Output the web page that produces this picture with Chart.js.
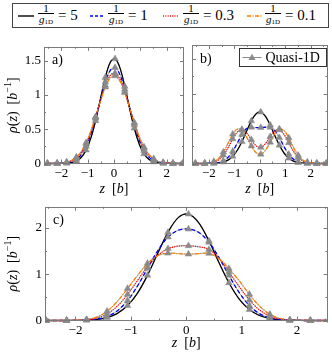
<!DOCTYPE html>
<html>
<head>
<meta charset="utf-8">
<script src="https://cdn.jsdelivr.net/npm/chart.js@4.4.0/dist/chart.umd.min.js"></script>
<style>
    body { margin: 0; width: 332px; height: 357px; background: #fff; position: relative; overflow: hidden; font-family: "Liberation Serif", serif; }
    canvas { position: absolute; }
    #legend { position: absolute; left: 12px; top: 3px; width: 317px; height: 25px; border: 1px solid #444; box-sizing: border-box; }
    .part { position: absolute; top: 0; height: 23px; display: flex; align-items: center; font-size: 15px; white-space: nowrap; color: #000; }
    .frac { display: inline-flex; flex-direction: column; align-items: center; font-size: 11px; }
    .frac .num { border-bottom: 0.8px solid #000; width: 100%; text-align: center; line-height: 10px; }
    .frac .den { line-height: 11px; font-style: italic; padding: 0 1px; }
    .frac sub { font-size: 7px; font-style: normal; vertical-align: -1px; }
</style>
</head>
<body>
<div id="legend"></div>
<canvas id="panelA" width="190" height="164" style="left:0;top:36px"></canvas>
<canvas id="panelB" width="146" height="164" style="left:186px;top:36px"></canvas>
<canvas id="panelC" width="332" height="161" style="left:0;top:196px"></canvas>
<script>
// positions en z [b] (marqueurs quasi-1D sur un point sur deux)
const zGrid = [-2.53, -2.35, -2.16, -1.98, -1.80, -1.61, -1.43, -1.25, -1.06, -0.88, -0.70, -0.51, -0.33, -0.14,
    0.04, 0.22, 0.41, 0.59, 0.77, 0.96, 1.14, 1.32, 1.51, 1.69, 1.87, 2.06, 2.24, 2.42, 2.61];

const gLabels = ['5', '1', '0.3', '0.1'];
const xTicks = [-2, -1, 0, 1, 2];
const yTicksTop = [0, 0.5, 1, 1.5];
const yTicksBottom = [0, 1, 2];

// panneau a)
const aBlack = [0, 0, 0, 0.001, 0.004, 0.013, 0.036, 0.087, 0.195, 0.369, 0.622, 0.949, 1.253, 1.476, 1.525, 1.400, 1.123, 0.807, 0.514, 0.281, 0.140, 0.062, 0.023, 0.008, 0.002, 0.001, 0, 0, 0];
const aBlue = [0, 0, 0.001, 0.003, 0.010, 0.026, 0.061, 0.127, 0.250, 0.426, 0.659, 0.938, 1.184, 1.358, 1.397, 1.299, 1.081, 0.820, 0.562, 0.339, 0.189, 0.096, 0.042, 0.017, 0.006, 0.002, 0.001, 0, 0];
const aRed = [0, 0.001, 0.002, 0.006, 0.016, 0.038, 0.081, 0.156, 0.285, 0.458, 0.675, 0.925, 1.137, 1.285, 1.317, 1.235, 1.049, 0.820, 0.587, 0.374, 0.223, 0.122, 0.058, 0.027, 0.011, 0.004, 0.001, 0, 0];
const aOrange = [0, 0.001, 0.003, 0.008, 0.020, 0.046, 0.093, 0.172, 0.303, 0.473, 0.681, 0.916, 1.113, 1.248, 1.277, 1.203, 1.031, 0.818, 0.597, 0.390, 0.240, 0.136, 0.068, 0.032, 0.014, 0.005, 0.002, 0.001, 0];

// panneau b)
const bBlack = [0, 0, 0, 0.001, 0.003, 0.008, 0.021, 0.048, 0.104, 0.190, 0.313, 0.469, 0.611, 0.715, 0.738, 0.680, 0.551, 0.402, 0.262, 0.147, 0.076, 0.035, 0.014, 0.005, 0.002, 0, 0, 0, 0];
const bBlue = [0, 0, 0, 0.001, 0.004, 0.014, 0.037, 0.086, 0.176, 0.293, 0.416, 0.505, 0.520, 0.515, 0.515, 0.520, 0.520, 0.475, 0.370, 0.238, 0.133, 0.063, 0.024, 0.008, 0.002, 0.001, 0, 0, 0];
const bRed = [0, 0, 0.002, 0.006, 0.019, 0.054, 0.120, 0.222, 0.352, 0.452, 0.487, 0.436, 0.341, 0.253, 0.232, 0.284, 0.385, 0.467, 0.483, 0.413, 0.297, 0.178, 0.086, 0.036, 0.012, 0.003, 0.001, 0, 0];
const bOrange = [0, 0, 0.002, 0.008, 0.027, 0.075, 0.162, 0.286, 0.420, 0.495, 0.479, 0.376, 0.251, 0.154, 0.132, 0.187, 0.305, 0.427, 0.496, 0.471, 0.367, 0.234, 0.118, 0.050, 0.018, 0.005, 0.001, 0, 0];

// panneau c)
const cBlack = [0, 0, 0.001, 0.002, 0.008, 0.025, 0.064, 0.149, 0.322, 0.591, 0.973, 1.458, 1.900, 2.222, 2.293, 2.113, 1.714, 1.249, 0.813, 0.455, 0.235, 0.108, 0.042, 0.015, 0.005, 0.001, 0, 0, 0];
const cBlue = [0, 0, 0, 0.002, 0.009, 0.031, 0.087, 0.206, 0.430, 0.744, 1.123, 1.514, 1.796, 1.947, 1.970, 1.902, 1.686, 1.357, 0.972, 0.594, 0.322, 0.150, 0.056, 0.019, 0.005, 0.001, 0, 0, 0];
const cRed = [0, 0, 0.001, 0.004, 0.015, 0.054, 0.140, 0.302, 0.561, 0.861, 1.157, 1.405, 1.547, 1.604, 1.610, 1.589, 1.530, 1.340, 1.046, 0.724, 0.442, 0.229, 0.094, 0.033, 0.009, 0.002, 0, 0, 0];
const cOrange = [0, 0, 0.001, 0.004, 0.020, 0.076, 0.197, 0.403, 0.690, 0.970, 1.230, 1.400, 1.450, 1.440, 1.430, 1.440, 1.445, 1.330, 1.120, 0.849, 0.564, 0.314, 0.133, 0.046, 0.012, 0.002, 0, 0, 0];

const styles = [
    { color: '#000000', dash: [] },
    { color: '#0000ff', dash: [4, 2.5] },
    { color: '#ff0000', dash: [1, 1.3] },
    { color: '#ff8000', dash: [4, 1.5, 1, 1.5] }
];
const svgDash = ['', '3,2', '1,1.3', '4,1.5,1,1.5'];
const GRAY = '#8a8a8a';
const FRAME = '#7a7a7a';
const SERIF = '"Liberation Serif", serif';

/**
 * Légende en haut (fractions 1/g1D)
 */
function buildLegend() {
    const legend = document.getElementById('legend');
    // positions relatives au cadre de légende
    const lineX = [5, 77, 150, 234];
    const lineW = [16, 14, 15, 15];
    const fracX = [25, 95, 170, 252];
    gLabels.forEach(function(g, i) {
        const sample = document.createElement('div');
        sample.className = 'part';
        sample.style.left = lineX[i] + 'px';
        sample.innerHTML = '<svg width="' + lineW[i] + '" height="10"><line x1="0" y1="5" x2="' + lineW[i] + '" y2="5" stroke="' +
            styles[i].color + '" stroke-width="1.4" stroke-dasharray="' + svgDash[i] + '"/></svg>';
        legend.appendChild(sample);

        const label = document.createElement('div');
        label.className = 'part';
        label.style.left = fracX[i] + 'px';
        label.innerHTML = '<span class="frac"><span class="num">1</span><span class="den">g<sub>1D</sub></span></span>' +
            '<span style="margin-left:4px">= ' + g + '</span>';
        legend.appendChild(label);
    });
}

function fmtTick(v) {
    return String(v).replace('-', '\u2212');
}

// texte avec morceaux en italique / exposant
function drawRuns(ctx, runs, size) {
    const fontOf = function(r) {
        return (r.i ? 'italic ' : '') + (r.sup ? Math.round(size * 0.7) : size) + 'px ' + SERIF;
    };
    let w = 0;
    runs.forEach(function(r) { ctx.font = fontOf(r); w += ctx.measureText(r.t).width; });
    let x = -w / 2;
    ctx.textBaseline = 'alphabetic';
    ctx.textAlign = 'left';
    runs.forEach(function(r) {
        ctx.font = fontOf(r);
        ctx.fillText(r.t, x, size * 0.33 + (r.sup ? -size * 0.4 : 0));
        x += ctx.measureText(r.t).width;
    });
}

const yTitleRuns = [{ t: 'ρ', i: 1 }, { t: '(' }, { t: 'z', i: 1 }, { t: ')  [' }, { t: 'b', i: 1 }, { t: '\u22121', sup: 1 }, { t: ']' }];
const xTitleRuns = [{ t: 'z', i: 1 }, { t: '  [' }, { t: 'b', i: 1 }, { t: ']' }];

/**
 * Cadre, graduations intérieures, titres et étiquettes
 */
const decorPlugin = {
    id: 'decor',
    afterDatasetsDraw: function(chart, args, opts) {
        const ctx = chart.ctx;
        const a = chart.chartArea;
        const xs = chart.scales.x, ys = chart.scales.y;
        ctx.save();
        ctx.strokeStyle = FRAME;
        ctx.lineWidth = 1;
        // graduations majeures et mineures, sur les quatre côtés
        const xt = opts.xTicks, yt = opts.yTicks;
        const xStep = xt[1] - xt[0], yStep = yt[1] - yt[0];
        ctx.beginPath();
        for (let v = xt[0] - xStep; v <= xt[xt.length - 1] + xStep + 1e-9; v += xStep / 2) {
            if (v < xs.min || v > xs.max) continue;
            const px = Math.round(xs.getPixelForValue(v)) + 0.5;
            const len = Math.abs(v / xStep - Math.round(v / xStep)) < 1e-6 ? 4 : 2;
            ctx.moveTo(px, a.bottom); ctx.lineTo(px, a.bottom - len);
            ctx.moveTo(px, a.top); ctx.lineTo(px, a.top + len);
        }
        for (let v = yt[0]; v <= ys.max + 1e-9; v += yStep / 2) {
            const py = Math.round(ys.getPixelForValue(v)) + 0.5;
            const len = Math.abs(v / yStep - Math.round(v / yStep)) < 1e-6 ? 4 : 2;
            ctx.moveTo(a.left, py); ctx.lineTo(a.left + len, py);
            ctx.moveTo(a.right, py); ctx.lineTo(a.right - len, py);
        }
        ctx.stroke();
        ctx.strokeRect(Math.round(a.left) + 0.5, Math.round(a.top) + 0.5, Math.round(a.right - a.left) - 1, Math.round(a.bottom - a.top) - 1);

        // étiquette du panneau
        ctx.fillStyle = '#000';
        ctx.font = '14px ' + SERIF;
        ctx.textBaseline = 'middle';
        ctx.textAlign = 'left';
        ctx.fillText(opts.label, a.left + 8, a.top + 14);

        // titre x
        ctx.save();
        ctx.translate((a.left + a.right) / 2, a.bottom + opts.xTitleOffset);
        drawRuns(ctx, xTitleRuns, 14);
        ctx.restore();

        // titre y
        if (opts.yTitle) {
            ctx.save();
            ctx.translate(12, (a.top + a.bottom) / 2);
            ctx.rotate(-Math.PI / 2);
            drawRuns(ctx, yTitleRuns, 14);
            ctx.restore();
        }

        // légende Quasi-1D
        if (opts.quasiLegend) {
            const bw = 87, bh = 18;
            const bx = Math.round(a.right - 2 - bw) + 0.5, by = Math.round(a.top + 3) + 0.5;
            ctx.fillStyle = '#fff';
            ctx.fillRect(bx, by, bw, bh);
            ctx.strokeStyle = '#333';
            ctx.strokeRect(bx, by, bw, bh);
            ctx.strokeStyle = GRAY;
            ctx.lineWidth = 1;
            ctx.beginPath();
            ctx.moveTo(bx + 3, by + bh / 2);
            ctx.lineTo(bx + 22, by + bh / 2);
            ctx.stroke();
            ctx.fillStyle = GRAY;
            const cx = bx + 12.5, cy = by + bh / 2;
            ctx.beginPath();
            ctx.moveTo(cx, cy - 3.8);
            ctx.lineTo(cx + 3.6, cy + 2.4);
            ctx.lineTo(cx - 3.6, cy + 2.4);
            ctx.closePath();
            ctx.fill();
            ctx.fillStyle = '#000';
            ctx.font = '14px ' + SERIF;
            ctx.textBaseline = 'middle';
            ctx.fillText('Quasi-1D', bx + 26, by + bh / 2 + 1);
        }
        ctx.restore();
    }
};

function buildDatasets(series) {
    const datasets = [];
    const clip = { left: 0, right: 0, top: 0, bottom: 5 };
    series.forEach(function(values, i) {
        const pts = zGrid.map(function(z, k) { return { x: z, y: values[k] }; });
        // courbe colorée
        datasets.push({
            data: pts, order: 4 - i, borderColor: styles[i].color, borderWidth: 1.3,
            borderDash: styles[i].dash, pointRadius: 0, tension: 0.35, clip: clip
        });
        // ligne grise quasi-1D
        datasets.push({
            data: pts, order: 6, borderColor: GRAY, borderWidth: 0.7, pointRadius: 0, tension: 0.35, clip: clip
        });
        // marqueurs quasi-1D
        datasets.push({
            data: pts.filter(function(p, k) { return k % 2 === 0; }), order: 0, showLine: false,
            pointStyle: 'triangle', pointRadius: 3.8, backgroundColor: GRAY, borderColor: GRAY, borderWidth: 0.5, clip: clip
        });
    });
    return datasets;
}

function makePanel(id, series, cfg) {
    new Chart(document.getElementById(id), {
        type: 'line',
        data: { datasets: buildDatasets(series) },
        options: {
            responsive: false,
            animation: false,
            devicePixelRatio: 1,
            events: [],
            layout: { padding: cfg.padding },
            plugins: {
                legend: { display: false },
                tooltip: { enabled: false },
                decor: cfg.decor
            },
            scales: {
                x: {
                    type: 'linear', min: cfg.xMin, max: cfg.xMax,
                    grid: { display: false, drawTicks: false, tickLength: 0 }, border: { display: false },
                    afterBuildTicks: function(s) { s.ticks = xTicks.map(function(v) { return { value: v }; }); },
                    afterFit: function(s) { s.height = cfg.xHeight; },
                    ticks: { color: '#000', padding: 2, font: { family: SERIF, size: 13 }, callback: fmtTick, autoSkip: false, maxRotation: 0 }
                },
                y: {
                    type: 'linear', min: 0, max: cfg.yMax,
                    grid: { display: false, drawTicks: false, tickLength: 0 }, border: { display: false },
                    afterBuildTicks: function(s) { s.ticks = cfg.yTicks.map(function(v) { return { value: v }; }); },
                    afterFit: function(s) { s.width = cfg.yWidth; },
                    ticks: { display: cfg.yLabels, color: '#000', padding: 3, font: { family: SERIF, size: 13 }, callback: fmtTick, autoSkip: false }
                }
            }
        },
        plugins: [decorPlugin]
    });
}

buildLegend();

makePanel('panelA', [aBlack, aBlue, aRed, aOrange], {
    padding: { top: 9, right: 6, left: 0, bottom: 0 },
    xMin: -2.66, xMax: 2.66, yMax: 1.7, yTicks: yTicksTop, yLabels: true,
    xHeight: 36.5, yWidth: 44,
    decor: { label: 'a)', xTicks: xTicks, yTicks: yTicksTop, xTitleOffset: 25, yTitle: true }
});

makePanel('panelB', [bBlack, bBlue, bRed, bOrange], {
    padding: { top: 9, right: 0.5, left: 0, bottom: 0 },
    xMin: -2.66, xMax: 2.66, yMax: 1.7, yTicks: yTicksTop, yLabels: false,
    xHeight: 36.5, yWidth: 6,
    decor: { label: 'b)', xTicks: xTicks, yTicks: yTicksTop, xTitleOffset: 25, yTitle: false, quasiLegend: true }
});

makePanel('panelC', [cBlack, cBlue, cRed, cOrange], {
    padding: { top: 7, right: 0.5, left: 0, bottom: 0 },
    xMin: -2.55, xMax: 2.55, yMax: 2.45, yTicks: yTicksBottom, yLabels: true,
    xHeight: 36.5, yWidth: 45,
    decor: { label: 'c)', xTicks: xTicks, yTicks: yTicksBottom, xTitleOffset: 22, yTitle: true }
});
</script>
</body>
</html>
